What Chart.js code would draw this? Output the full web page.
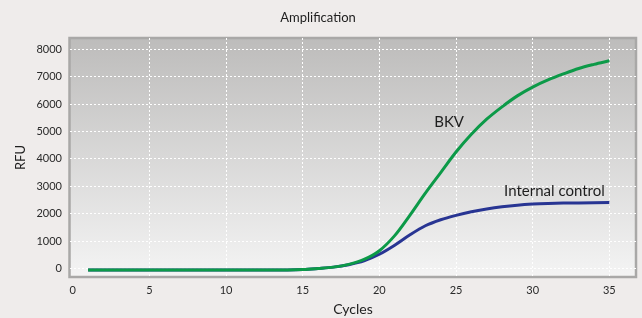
<!DOCTYPE html>
<html>
<head>
<meta charset="utf-8">
<script src="https://cdn.jsdelivr.net/npm/chart.js@4"></script>
<style>
  html, body { margin: 0; padding: 0; background: #efeceb; }
  #wrap { width: 642px; height: 318px; }
</style>
</head>
<body>
<div id="wrap"><canvas id="amp"></canvas></div>
<script>
const cycles = [1, 2, 3, 4, 5, 6, 7, 8, 9, 10, 11, 12, 13, 14, 15, 16, 17, 18,
  19, 20, 21, 22, 23, 24, 25, 26, 27, 28, 29, 30, 31, 32, 33, 34, 35];
const bkv = [-50, -50, -50, -50, -50, -50, -50, -50, -50, -50, -50, -50, -50, -50,
  -40, 0, 50, 150, 330, 650, 1200, 1950, 2750, 3500, 4250, 4900, 5450, 5900,
  6300, 6620, 6880, 7100, 7300, 7450, 7580];
const internalControl = [-50, -50, -50, -50, -50, -50, -50, -50, -50, -50, -50, -50, -50, -50,
  -40, 0, 50, 140, 280, 520, 850, 1230, 1560, 1780, 1940, 2070, 2170, 2250,
  2310, 2350, 2375, 2390, 2395, 2400, 2405];
const xTicks = [0, 5, 10, 15, 20, 25, 30, 35];
const yTicks = [0, 1000, 2000, 3000, 4000, 5000, 6000, 7000, 8000];
const curveLabels = [
  { text: 'BKV', x: 24.55, y: 5330 },
  { text: 'Internal control', x: 31.42, y: 2830 },
];

const FONT = 'Lato, "Liberation Sans", sans-serif';
const toPoints = (ys) => cycles.map((c, i) => ({ x: c, y: ys[i] }));

// grey gradient panel + frame behind the grid, curve names on top
const plotPanel = {
  id: 'plotPanel',
  beforeDraw(chart) {
    const { ctx, chartArea: a } = chart;
    const g = ctx.createLinearGradient(0, a.top, 0, a.bottom);
    g.addColorStop(0, '#bdbcbb');
    g.addColorStop(1, '#f4f4f4');
    ctx.save();
    ctx.fillStyle = g;
    ctx.fillRect(a.left, a.top, a.right - a.left, a.bottom - a.top);
    ctx.strokeStyle = '#a9a8a7';
    ctx.lineWidth = 2.5;
    ctx.strokeRect(a.left - 0.5, a.top, a.right - a.left + 0.5, a.bottom - a.top);
    ctx.restore();
  },
  afterDatasetsDraw(chart) {
    const { ctx, scales } = chart;
    ctx.save();
    ctx.fillStyle = '#1e1e1e';
    ctx.font = '15px ' + FONT;
    ctx.textAlign = 'center';
    ctx.textBaseline = 'middle';
    curveLabels.forEach((l) => {
      ctx.fillText(l.text, scales.x.getPixelForValue(l.x), scales.y.getPixelForValue(l.y));
    });
    ctx.restore();
  },
};

const config = {
  type: 'line',
  data: {
    datasets: [{
      label: 'BKV',
      data: toPoints(bkv),
      borderColor: '#0c9a48',
      borderWidth: 3,
      pointRadius: 0,
      cubicInterpolationMode: 'monotone',
    }, {
      label: 'Internal control',
      data: toPoints(internalControl),
      borderColor: '#283593',
      borderWidth: 3,
      pointRadius: 0,
      cubicInterpolationMode: 'monotone',
    }],
  },
  options: {
    responsive: true,
    maintainAspectRatio: false,
    animation: false,
    events: [],
    layout: { padding: { left: 0, right: 6, top: 0, bottom: 0 } },
    plugins: {
      legend: { display: false },
      tooltip: { enabled: false },
      title: {
        display: true,
        text: 'Amplification',
        color: '#1e1e1e',
        font: { family: FONT, size: 13, weight: 'normal', lineHeight: 1.2 },
        padding: { top: 10, bottom: 12.4 },
      },
    },
    scales: {
      x: {
        type: 'linear',
        min: -0.18,
        max: 36.74,
        afterBuildTicks: (s) => { s.ticks = xTicks.map((v) => ({ value: v })); },
        afterFit: (s) => { s.height = 41; },
        border: { display: false, dash: [2, 2] },
        grid: {
          drawTicks: false,
          color: (c) => (c.tick && c.tick.value === 0 ? 'rgba(0,0,0,0)' : '#ffffff'),
          lineWidth: 1,
        },
        ticks: {
          padding: 7,
          color: '#2a2a2a',
          font: { family: FONT, size: 11 },
          maxRotation: 0,
          callback: (v) => String(v),
        },
        title: {
          display: true,
          text: 'Cycles',
          color: '#1e1e1e',
          font: { family: FONT, size: 14, lineHeight: 1.2 },
          padding: { top: 0, bottom: 0 },
        },
      },
      y: {
        min: -310,
        max: 8412,
        afterBuildTicks: (s) => { s.ticks = yTicks.map((v) => ({ value: v })); },
        afterFit: (s) => { s.width = 70; },
        border: { display: false, dash: [2, 2] },
        grid: {
          drawTicks: false,
          color: '#ffffff',
          lineWidth: 1,
        },
        ticks: {
          padding: 8,
          color: '#2a2a2a',
          font: { family: FONT, size: 11 },
          callback: (v) => String(v),
        },
        title: {
          display: true,
          text: 'RFU',
          color: '#1e1e1e',
          font: { family: FONT, size: 13, lineHeight: 1.2 },
          padding: { top: 13, bottom: 0 },
        },
      },
    },
  },
  plugins: [plotPanel],
};

new Chart(document.getElementById('amp'), config);
</script>
</body>
</html>
